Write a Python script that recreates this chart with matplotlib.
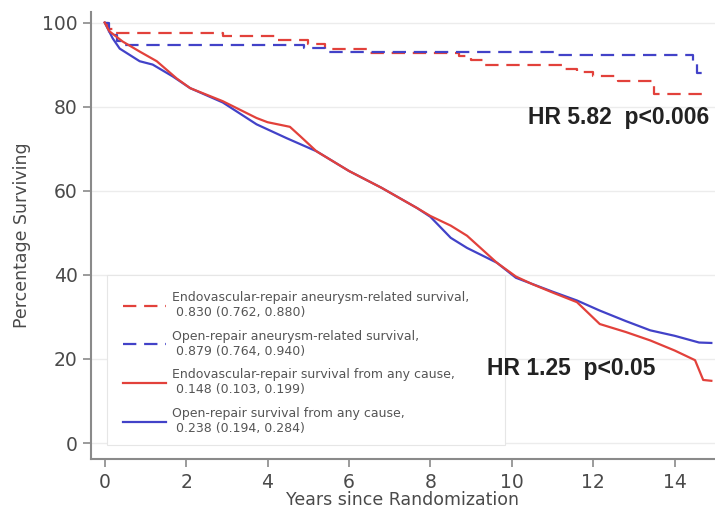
import matplotlib
matplotlib.use("Agg")
import matplotlib.pyplot as plt
from matplotlib.patches import Rectangle

# ---- data ----
endo_aaa_t = [0, 0.08, 0.2, 2.9, 4.2, 5.0, 5.4, 6.5, 8.7, 9.0, 9.3, 11.3, 11.6, 12.0, 12.6, 13.5, 14.85]
endo_aaa_v = [100, 98.5, 97.6, 96.8, 95.9, 94.9, 93.8, 92.8, 92.0, 91.0, 90.0, 89.0, 88.3, 87.2, 86.0, 83.0, 83.0]

open_aaa_t = [0, 0.1, 0.3, 0.5, 4.9, 5.4, 11.1, 14.45, 14.55, 14.85]
open_aaa_v = [100, 97.0, 95.5, 94.7, 94.0, 93.1, 92.3, 90.5, 87.9, 87.9]

endo_all_t = [0, 0.12, 0.44, 0.86, 1.28, 1.77, 2.1, 2.9, 3.73, 4.0, 4.55, 4.8, 5.2, 6.0, 6.8, 7.67,
              8.0, 8.5, 8.9, 9.63, 10.1, 10.5, 11.0, 11.6, 12.16, 12.8, 13.4, 14.0, 14.5, 14.7, 14.9]
endo_all_v = [100, 97.9, 95.5, 93.1, 90.8, 86.7, 84.4, 81.3, 77.3, 76.3, 75.2, 73.0, 69.4, 64.7, 60.7, 55.9,
              54.0, 51.7, 49.3, 42.9, 39.6, 37.8, 35.8, 33.5, 28.3, 26.4, 24.4, 22.0, 19.7, 15.0, 14.8]

open_all_t = [0, 0.2, 0.37, 0.86, 1.18, 1.67, 2.1, 2.9, 3.73, 4.47, 5.2, 6.0, 6.8, 7.67,
              8.0, 8.5, 8.9, 9.63, 10.1, 11.0, 11.6, 12.16, 12.8, 13.4, 14.0, 14.6, 14.9]
open_all_v = [100, 96.2, 93.8, 90.8, 90.0, 87.2, 84.4, 81.0, 75.8, 72.5, 69.4, 64.7, 60.7, 55.9,
              53.8, 48.8, 46.4, 42.9, 39.3, 36.0, 33.9, 31.5, 29.0, 26.8, 25.5, 23.9, 23.8]

labels = [
    "Endovascular-repair aneurysm-related survival,\n 0.830 (0.762, 0.880)",
    "Open-repair aneurysm-related survival,\n 0.879 (0.764, 0.940)",
    "Endovascular-repair survival from any cause,\n 0.148 (0.103, 0.199)",
    "Open-repair survival from any cause,\n 0.238 (0.194, 0.284)",
]
xticks = [0, 2, 4, 6, 8, 10, 12, 14]
yticks = [0, 20, 40, 60, 80, 100]
hr_texts = ["HR 5.82  p<0.006", "HR 1.25  p<0.05"]

RED = "#e2413b"
BLUE = "#4242c8"
GRAY = "#555555"

plt.rcParams['font.family'] = ['DejaVu Sans']

fig = plt.figure(figsize=(7.15, 5.12), dpi=100)
ax = fig.add_axes([0.127, 0.1035, 0.873, 0.873])

dash = (0, (6, 3.5))
ax.plot(endo_aaa_t, endo_aaa_v, drawstyle='steps-post', color=RED, lw=1.6, linestyle=dash, label=labels[0])
ax.plot(open_aaa_t, open_aaa_v, drawstyle='steps-post', color=BLUE, lw=1.6, linestyle=dash, label=labels[1])
ax.plot(endo_all_t, endo_all_v, color=RED, lw=1.6, label=labels[2])
ax.plot(open_all_t, open_all_v, color=BLUE, lw=1.6, label=labels[3], zorder=1.9)

ax.set_xlim(-0.34, 14.99)
ax.set_ylim(-3.8, 102.5)
ax.set_xticks(xticks)
ax.set_yticks(yticks)
ax.yaxis.grid(True, color="#ececec", lw=1)
ax.set_axisbelow(True)

for s in ['top', 'right']:
    ax.spines[s].set_visible(False)
for s in ['left', 'bottom']:
    ax.spines[s].set_color("#8a8a8a")
    ax.spines[s].set_linewidth(1.5)
ax.tick_params(axis='both', colors="#8a8a8a", length=6, width=1.2, labelsize=13.5, labelcolor="#4a4a4a")
ax.tick_params(axis='x', pad=4)

ax.set_xlabel("Years since Randomization", fontsize=12.5, color="#4a4a4a", labelpad=-1)
ax.set_ylabel("Percentage Surviving", fontsize=12.5, color="#4a4a4a", labelpad=8)

ax.text(14.85, 77.3, hr_texts[0], ha='right', va='center', fontsize=16.5, fontweight='bold',
        family=['Liberation Sans', 'DejaVu Sans'], color='#222222')
ax.text(9.4, 17.8, hr_texts[1], ha='left', va='center', fontsize=16.5, fontweight='bold',
        family=['Liberation Sans', 'DejaVu Sans'], color='#222222')

# legend region box
ax.add_patch(Rectangle((0.0256, 0.031), 0.663 - 0.0256, 0.412 - 0.031, transform=ax.transAxes,
                       facecolor='white', edgecolor='#e6e6e6', lw=0.8, zorder=2.5))

leg = ax.legend(loc='upper left', bbox_to_anchor=(0.0256, 0.412), fontsize=9, frameon=False,
                handlelength=3.4, labelspacing=0.85, borderpad=1.3, handletextpad=0.55,
                borderaxespad=0)
leg.set_zorder(3)
for t in leg.get_texts():
    t.set_color(GRAY)

fig.savefig("out.png", dpi=100, facecolor='white')
